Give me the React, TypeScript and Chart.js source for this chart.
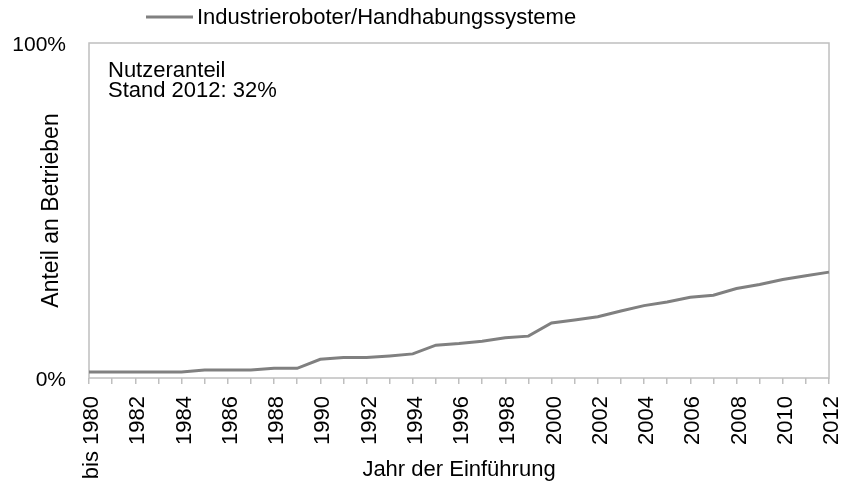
import React, { useEffect, useRef } from "react";
import { Chart, registerables } from "chart.js";

Chart.register(...registerables);

const categories = [
  "bis 1980", "1981", "1982", "1983", "1984", "1985", "1986", "1987", "1988", "1989",
  "1990", "1991", "1992", "1993", "1994", "1995", "1996", "1997", "1998", "1999",
  "2000", "2001", "2002", "2003", "2004", "2005", "2006", "2007", "2008", "2009",
  "2010", "2011", "2012",
];

const seriesLabel = "Industrieroboter/Handhabungssysteme";

const shareValues = [
  1.8, 1.8, 1.8, 1.8, 1.8, 2.4, 2.4, 2.4, 2.9, 2.9,
  5.6, 6.1, 6.1, 6.6, 7.2, 9.8, 10.3, 11.0, 12.0, 12.5,
  16.4, 17.3, 18.3, 20.0, 21.6, 22.7, 24.1, 24.7, 26.7, 27.9,
  29.4, 30.5, 31.6,
];

const yTickValues = [0, 100];
const annotationLines = ["Nutzeranteil", "Stand 2012: 32%"];
const xAxisTitle = "Jahr der Einführung";
const yAxisTitle = "Anteil an Betrieben";

const FONT_FAMILY = "'Liberation Sans', Arial, sans-serif";
const LINE_COLOR = "#808080";
const FRAME_COLOR = "#bfbfbf";

const framePlugin = {
  id: "frameAndLabels",
  beforeDatasetsDraw(chart: any) {
    const { ctx, chartArea } = chart;
    ctx.save();
    ctx.strokeStyle = FRAME_COLOR;
    ctx.lineWidth = 1.5;
    ctx.strokeRect(
      chartArea.left,
      chartArea.top,
      chartArea.right - chartArea.left,
      chartArea.bottom - chartArea.top
    );
    ctx.restore();
  },
  afterDraw(chart: any) {
    const { ctx, chartArea } = chart;
    ctx.save();
    // legend
    const ds = chart.data.datasets[0];
    ctx.strokeStyle = LINE_COLOR;
    ctx.lineWidth = 3;
    ctx.beginPath();
    ctx.moveTo(146, 17);
    ctx.lineTo(193, 17);
    ctx.stroke();
    ctx.fillStyle = "#000000";
    ctx.font = `22px ${FONT_FAMILY}`;
    ctx.textBaseline = "alphabetic";
    ctx.textAlign = "left";
    ctx.fillText(ds.label, 197, 24);
    // annotation
    ctx.font = `22px ${FONT_FAMILY}`;
    annotationLines.forEach((line, i) => {
      ctx.fillText(line, chartArea.left + 19, chartArea.top + 34 + i * 20);
    });
    ctx.restore();
  },
};

export default function App() {
  const canvasRef = useRef<HTMLCanvasElement | null>(null);

  useEffect(() => {
    document.body.style.margin = "0";
    const canvas = canvasRef.current;
    if (!canvas) return;
    const chart = new Chart(canvas, {
      type: "line",
      data: {
        labels: categories,
        datasets: [
          {
            label: seriesLabel,
            data: shareValues,
            borderColor: LINE_COLOR,
            backgroundColor: LINE_COLOR,
            borderWidth: 3,
            pointRadius: 0,
            tension: 0,
            fill: false,
          },
        ],
      },
      options: {
        animation: false,
        responsive: false,
        devicePixelRatio: 1,
        layout: { padding: { top: 43, right: 17, bottom: 0, left: 0 } },
        plugins: {
          legend: { display: false },
          tooltip: { enabled: false },
        },
        scales: {
          x: {
            type: "category",
            offset: false,
            border: { display: false },
            grid: {
              display: true,
              drawOnChartArea: false,
              drawTicks: true,
              tickLength: 6,
              color: FRAME_COLOR,
              lineWidth: 1.5,
            },
            ticks: {
              autoSkip: false,
              minRotation: 90,
              maxRotation: 90,
              padding: 12,
              labelOffset: 3,
              color: "#000000",
              font: { family: FONT_FAMILY, size: 22 },
              callback: (_v: any, i: number) => (i % 2 === 0 ? categories[i] : ""),
            },
            title: {
              display: true,
              text: xAxisTitle,
              color: "#000000",
              font: { family: FONT_FAMILY, size: 22 },
              padding: { top: 0, bottom: 2.8 },
            },
            afterFit: (scale: any) => {
              scale.height = 108;
              scale.paddingLeft = 0;
              scale.paddingRight = 0;
            },
          },
          y: {
            min: 0,
            max: 100,
            border: { display: false },
            grid: { display: false, drawTicks: false },
            afterBuildTicks: (scale: any) => {
              scale.ticks = yTickValues.map((v) => ({ value: v }));
            },
            ticks: {
              padding: 23,
              labelOffset: 2,
              color: "#000000",
              font: { family: FONT_FAMILY, size: 21 },
              callback: (v: any) => `${v}%`,
            },
            title: {
              display: true,
              text: yAxisTitle,
              color: "#000000",
              font: { family: FONT_FAMILY, size: 23 },
              padding: { top: 37.7, bottom: 0 },
            },
            afterFit: (scale: any) => {
              scale.width = 89;
              scale.paddingTop = 0;
              scale.paddingBottom = 0;
            },
          },
        },
      },
      plugins: [framePlugin],
    });
    return () => chart.destroy();
  }, []);

  return (
    <div style={{ width: 846, height: 486 }}>
      <canvas ref={canvasRef} width={846} height={486} style={{ display: "block" }} />
    </div>
  );
}
